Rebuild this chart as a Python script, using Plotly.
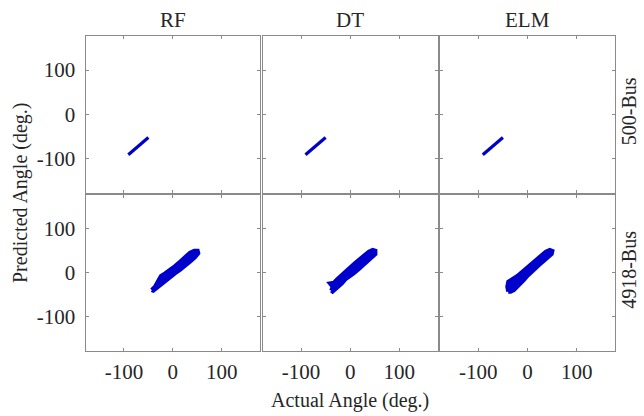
import plotly.graph_objects as go

# ---------------- data ----------------
models = ["RF", "DT", "ELM"]
systems = ["500-Bus", "4918-Bus"]
tick_vals = [-100, 0, 100]
tick_text = ["-100", "0", "100"]
axis_range = [-178, 178]

# 500-Bus: actual vs predicted angle (thin diagonal band)
bus500_actual = {
    "RF":  [-91, -80, -70, -60, -50],
    "DT":  [-91, -80, -70, -60, -50],
    "ELM": [-91, -80, -70, -60, -50],
}
bus500_pred = {
    "RF":  [-92, -82, -72, -62, -53],
    "DT":  [-92, -82, -72, -62, -53],
    "ELM": [-92, -82, -72, -62, -53],
}

# 4918-Bus: outline of the dense actual-vs-predicted point cloud
bus4918_actual = {
    "RF": [-43.3, -36.5, -31.0, -24.2, -16.0, -5.8, 4.4, 14.6, 24.8, 35.0, 43.9, 50.7,
           52.0, 45.2, 35.0, 24.8, 14.6, 4.4, -5.8, -16.0, -26.2, -33.0, -39.9],
    "DT": [-38.5, -35.8, -41.3, -33.1, -27.0, -20.2, -9.9, 0.3, 10.5, 20.7, 29.6, 37.7, 45.9,
           51.3, 51.3, 44.5, 36.4, 27.5, 17.3, 7.1, -3.1, -9.9, -16.7, -23.5, -30.4, -35.8],
    "ELM": [-39.2, -41.2, -39.2, -31.0, -20.8, -10.6, -0.3, 9.9, 20.1, 28.9, 37.1, 45.3,
            50.7, 49.4, 42.6, 33.7, 23.5, 13.3, 6.5, -0.3, -7.1, -14.0, -20.8, -27.6, -34.4],
}
bus4918_pred = {
    "RF": [-39.1, -31.5, -20.1, -7.2, -1.1, 6.5, 15.6, 25.5, 36.9, 46.0, 50.5, 50.5,
           44.5, 35.4, 25.5, 15.6, 6.5, -1.1, -10.2, -20.1, -27.7, -35.3, -40.6],
    "DT": [-40.6, -31.5, -23.9, -22.4, -14.8, -8.7, 2.7, 12.6, 23.2, 33.1, 42.9, 48.2, 52.1,
           50.5, 42.9, 35.4, 27.7, 17.9, 8.0, -1.1, -10.2, -14.8, -23.9, -31.5, -39.1, -42.9],
    "ELM": [-42.9, -31.5, -20.1, -14.8, -7.2, 2.7, 12.6, 23.2, 33.1, 42.2, 48.2, 52.1,
            49.8, 42.9, 35.4, 27.7, 17.9, 8.0, -1.1, -7.2, -16.3, -23.9, -31.5, -39.1, -42.9],
}

# ---------------- layout helpers ----------------
W, H = 644, 416
col_px = [(85.7, 260.0), (262.7, 437.7), (440.0, 615.0)]
row_px = [(35.7, 192.7), (194.7, 351.0)]
BLUE = "rgb(0,0,205)"
FONT = "Liberation Serif"
TXT = "#262626"
GRID = "#8a8a8a"

fig = go.Figure()
layout = {}
k = 0
for r, sysname in enumerate(systems):
    for c, m in enumerate(models):
        k += 1
        xa = "x" if k == 1 else f"x{k}"
        ya = "y" if k == 1 else f"y{k}"
        if r == 0:
            xs, ys = bus500_actual[m], bus500_pred[m]
            fig.add_trace(go.Scatter(x=xs, y=ys, mode="lines",
                                     line=dict(color=BLUE, width=3.2),
                                     xaxis=xa, yaxis=ya, showlegend=False))
        else:
            xs, ys = bus4918_actual[m], bus4918_pred[m]
            fig.add_trace(go.Scatter(x=xs + [xs[0]], y=ys + [ys[0]], mode="lines",
                                     fill="toself", fillcolor=BLUE,
                                     line=dict(color=BLUE, width=4),
                                     xaxis=xa, yaxis=ya, showlegend=False))
        x0, x1 = col_px[c]
        y0, y1 = row_px[r]
        common = dict(range=axis_range, tickvals=tick_vals, ticktext=tick_text,
                      showgrid=False, zeroline=False, showline=True,
                      linecolor=GRID, linewidth=1.3, mirror="ticks",
                      ticks="inside", ticklen=3, tickcolor=GRID, tickwidth=1,
                      tickfont=dict(family=FONT, size=21, color=TXT),
                      fixedrange=True)
        layout["xaxis" if k == 1 else f"xaxis{k}"] = dict(
            common, domain=[x0 / W, x1 / W], anchor=ya,
            showticklabels=(r == 1), ticklabelstandoff=2)
        layout["yaxis" if k == 1 else f"yaxis{k}"] = dict(
            common, domain=[1 - y1 / H, 1 - y0 / H], anchor=xa,
            showticklabels=(c == 0), ticklabelstandoff=5)

fig.update_layout(**layout)

ann = []
for c, m in enumerate(models):
    ann.append(dict(text=m, x=(col_px[c][0] + col_px[c][1]) / 2 / W, y=1 - 20 / H,
                    xref="paper", yref="paper", showarrow=False,
                    xanchor="center", yanchor="middle",
                    font=dict(family=FONT, size=21, color=TXT)))
for r, s in enumerate(systems):
    ann.append(dict(text=s, x=629 / W, y=1 - ((row_px[r][0] + row_px[r][1]) / 2 - 3) / H,
                    xref="paper", yref="paper", showarrow=False, textangle=-90,
                    xanchor="center", yanchor="middle",
                    font=dict(family=FONT, size=20, color=TXT)))
ann.append(dict(text="Actual Angle (deg.)", x=350 / W, y=1 - 400 / H,
                xref="paper", yref="paper", showarrow=False,
                xanchor="center", yanchor="middle",
                font=dict(family=FONT, size=20, color=TXT)))
ann.append(dict(text="Predicted Angle (deg.)", x=20 / W, y=1 - 193 / H,
                xref="paper", yref="paper", showarrow=False, textangle=-90,
                xanchor="center", yanchor="middle",
                font=dict(family=FONT, size=20, color=TXT)))

fig.update_layout(width=W, height=H, margin=dict(l=0, r=0, t=0, b=0),
                  paper_bgcolor="white", plot_bgcolor="white",
                  annotations=ann)

fig.write_html("out.html", config={"displayModeBar": False},
               post_script="document.body.style.margin='0';")
